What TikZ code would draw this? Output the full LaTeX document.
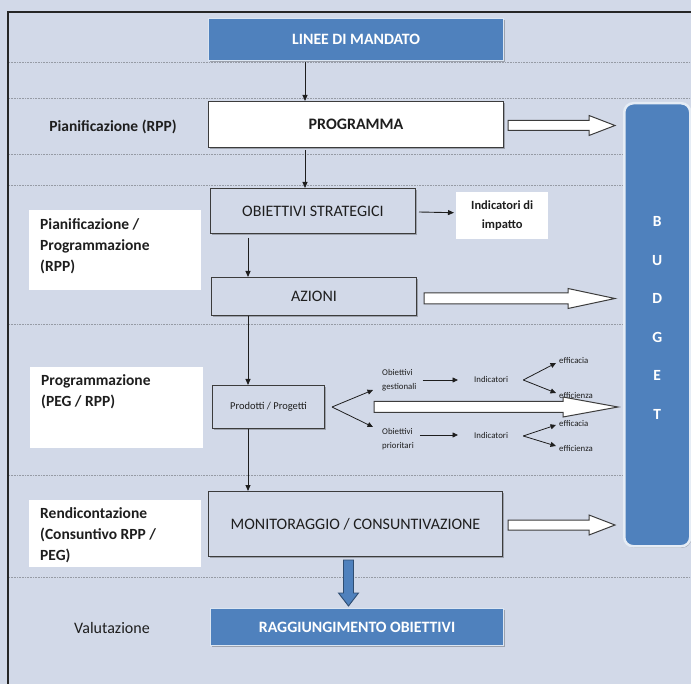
\documentclass[tikz,border=0pt]{standalone}
\usepackage{fontspec}
\setmainfont{Carlito}
\usetikzlibrary{calc,shadows,arrows.meta}
\definecolor{bg}{RGB}{210,217,232}
\definecolor{blu}{RGB}{79,129,189}
\definecolor{ink}{RGB}{30,30,30}
\definecolor{edge}{RGB}{60,60,60}
\definecolor{sep}{RGB}{150,155,165}
\newcommand{\hollowarr}[5]{% start, tip, shaft half, head half, head length
  \draw[hollow] ($(#1)+(0,#3)$) -- ($(#2)+(-#5,#3)$) -- ($(#2)+(-#5,#4)$) -- (#2)
    -- ($(#2)+(-#5,-#4)$) -- ($(#2)+(-#5,-#3)$) -- ($(#1)+(0,-#3)$) -- cycle;}
\begin{document}
\begin{tikzpicture}[x=1pt,y=-1pt,
  box/.style={draw=edge, fill=bg, line width=1pt, inner sep=0pt, anchor=north west, text=ink,
    font=\fontsize{16}{18}\selectfont,
    drop shadow={shadow xshift=1pt,shadow yshift=-1.3pt,opacity=0.25,fill=black}},
  bluebox/.style={box, fill=blu, draw=white!80!blu, line width=1.2pt, text=white,
    font=\fontsize{15.8}{18}\selectfont\bfseries},
  labbox/.style={fill=white, inner xsep=11pt, inner ysep=0pt, anchor=north west, text=ink,
    font=\fontsize{15.5}{21}\selectfont\bfseries},
  lab/.style={text=ink, font=\fontsize{16}{18}\selectfont},
  tiny/.style={text=ink, font=\fontsize{8.8}{14}\selectfont, inner sep=0pt, align=left},
  arr/.style={draw=ink, line width=0.9pt, -{Triangle[length=6pt,width=5pt]}},
  thin/.style={draw=ink, line width=0.8pt, -{Triangle[length=5.5pt,width=5pt]}},
  hollow/.style={draw=edge, fill=white, line width=1pt, line join=miter},
  sepline/.style={draw=sep, line width=0.6pt, dash pattern=on 0.8pt off 0.8pt}]
% background and frame
\fill[bg] (0,0) rectangle (691,684);
\useasboundingbox (0,0) rectangle (691,684);
\draw[draw=black!85, line width=1.6pt] (8,684) -- (8,12) -- (692,12);
\foreach \yy in {62,98,154,185,324,475,577} \draw[sepline] (9,\yy) -- (691,\yy);
% helper coordinates
\coordinate (xa) at (305,0);
\coordinate (xb) at (248,0);
% budget
\node[draw=white!85!blu, line width=2.5pt, fill=blu, rounded corners=9pt, anchor=north west,
  minimum width=66pt, minimum height=443pt, inner sep=0pt, text=white,
  drop shadow={shadow xshift=1pt,shadow yshift=-1.5pt,opacity=0.25,fill=black},
  font=\fontsize{15.5}{38.5}\selectfont\bfseries] (budget) at (623,102)
  {\parbox[c]{20pt}{\centering B\\U\\D\\G\\E\\T\par\vspace{14pt}}};
% main boxes
\node[bluebox, minimum width=295pt, minimum height=42pt] (linee) at (208,18) {LINEE DI MANDATO};
\node[box, fill=white, minimum width=295pt, minimum height=46pt, font=\fontsize{16}{18}\selectfont\bfseries] (prog) at (208,101) {PROGRAMMA};
\node[box, minimum width=205pt, minimum height=45pt] (obj) at (210,188) {OBIETTIVI STRATEGICI};
\node[fill=white, anchor=north west, minimum width=92pt, minimum height=47pt, inner sep=0pt, align=center, text=ink,
  font=\fontsize{12.5}{19}\selectfont\bfseries] (ind) at (456,192) {Indicatori di\\impatto};
\node[box, minimum width=205pt, minimum height=38pt] (az) at (211,277) {AZIONI};
\node[box, minimum width=112pt, minimum height=43pt, font=\fontsize{10.5}{12}\selectfont] (prod) at (212,385) {Prodotti / Progetti};
\node[box, minimum width=294pt, minimum height=65pt] (mon) at (208,491) {MONITORAGGIO / CONSUNTIVAZIONE};
\node[bluebox, minimum width=293pt, minimum height=37pt] (rag) at (210,608) {RAGGIUNGIMENTO OBIETTIVI};
% small texts
\node[tiny, anchor=west] (og) at (382,380) {Obiettivi\\gestionali};
\node[tiny, anchor=west] (op) at (382,439) {Obiettivi\\prioritari};
\node[tiny, anchor=west] (i1) at (474,379) {Indicatori};
\node[tiny, anchor=west] (i2) at (474,435) {Indicatori};
\node[tiny, anchor=west] (e1) at (559,360) {efficacia};
\node[tiny, anchor=west] (e2) at (559,395) {efficienza};
\node[tiny, anchor=west] (e3) at (559,423) {efficacia};
\node[tiny, anchor=west] (e4) at (559,448) {efficienza};
% left labels
\node[lab, font=\fontsize{15.5}{18}\selectfont\bfseries] (l1) at (113,127) {Pianificazione (RPP)};
\node[labbox] (l2) at (29,210) {\parbox[c][80pt][t]{150pt}{\vspace{8pt}Pianificazione /\\Programmazione\\(RPP)}};
\node[labbox] (l3) at (30,367) {\parbox[c][81pt][t]{151pt}{\vspace{7pt}Programmazione\\(PEG / RPP)}};
\node[labbox] (l4) at (29,500) {\parbox[c][67pt][t]{150pt}{\vspace{7pt}Rendicontazione\\(Consuntivo RPP /\\PEG)}};
\node[lab] (l5) at (112,628) {Valutazione};
% vertical connectors
\draw[arr] ($(linee.south -| xa)+(0,1)$) -- (prog.north -| xa);
\draw[arr] ($(prog.south -| xa)+(0,2)$) -- (obj.north -| xa);
\draw[arr] ($(obj.south -| xb)+(0,4)$) -- (az.north -| xb);
\draw[arr] (az.south -| xb) -- (prod.north -| xb);
\draw[arr] (prod.south -| xb) -- (mon.north -| xb);
\draw[arr] ($(obj.east)+(3,1)$) -- ($(ind.west)+(-2,-3)$);
% fan from prodotti
\coordinate (apex) at ($(prod.east)+(7,0)$);
\draw[thin] (apex) -- ($(og.west)+(-9,10)$);
\draw[thin] (apex) -- ($(op.west)+(-9,-12)$);
\draw[thin] ($(og.east)+(6,0)$) -- ($(i1.west)+(-16,1)$);
\draw[thin] ($(op.east)+(6,-4)$) -- ($(i2.west)+(-16,0)$);
\coordinate (v1) at ($(i1.east)+(15,1)$);
\coordinate (v2) at ($(i2.east)+(15,1)$);
\draw[thin] (v1) -- ($(e1.west)+(-3,3)$);
\draw[thin] (v1) -- ($(e2.west)+(-3,-2)$);
\draw[thin] (v2) -- ($(e3.west)+(-3,2)$);
\draw[thin] (v2) -- ($(e4.west)+(-3,-2)$);
% hollow block arrows to budget
\coordinate (t1) at ($(prog.east -| budget.west)+(-8,1)$);
\coordinate (s1) at ($(prog.east)+(4,1)$);
\hollowarr{s1}{t1}{5}{10}{26}
\coordinate (t2) at ($(az.east -| budget.west)+(-8,2)$);
\coordinate (s2) at ($(az.east)+(7,2)$);
\hollowarr{s2}{t2}{5.5}{10}{47}
\coordinate (t3) at ($(prod.east -| budget.west)+(-5,0)$);
\coordinate (s3) at ($(prod.east)+(49,0)$);
\hollowarr{s3}{t3}{5.5}{10}{55}
\coordinate (t4) at ($(mon.east -| budget.west)+(-8,1)$);
\coordinate (s4) at ($(mon.east)+(5,1)$);
\hollowarr{s4}{t4}{5}{10}{26}
% blue down arrow
\coordinate (bs) at ($(mon.south)+(-7,3)$);
\coordinate (bt0) at ($(rag.north)+(-9,-2)$);
\path let \p1=(bs), \p2=(bt0) in coordinate (bt) at (\x1,\y2);
\draw[draw=blu!60!black, fill=blu, line width=0.9pt, line join=miter]
  ($(bs)+(-5,0)$) -- ($(bt)+(-5,-13)$) -- ($(bt)+(-10,-13)$) -- (bt) -- ($(bt)+(10,-13)$)
  -- ($(bt)+(5,-13)$) -- ($(bs)+(5,0)$) -- cycle;
\end{tikzpicture}
\end{document}
